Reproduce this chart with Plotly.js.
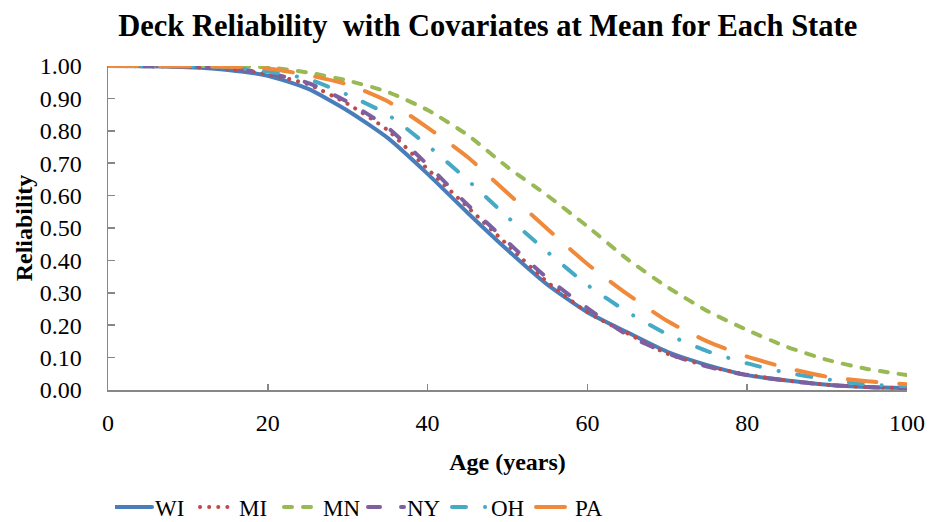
<!DOCTYPE html>
<html>
<head>
<meta charset="utf-8">
<script src="https://cdn.plot.ly/plotly-3.0.1.min.js"></script>
<style>
  html, body { margin: 0; padding: 0; background: #fff; }
  #chart { width: 929px; height: 522px; }
  .scatterlayer .js-line, .legend .js-line, .legendlines path { stroke-linecap: round; stroke-linejoin: round; }
  .legendlines path { d: path('M1,0h36'); }
</style>
</head>
<body>
<div id="chart"></div>
<script>
// Age (years)
const ages = [0, 5, 10, 15, 20, 25, 30, 35, 40, 45, 50, 55, 60, 65, 70, 75, 80, 85, 90, 95, 100];
// Reliability per state
const WI = [1.000, 0.999, 0.996, 0.988, 0.970, 0.930, 0.862, 0.778, 0.667, 0.547, 0.432, 0.325, 0.240, 0.178, 0.118, 0.077, 0.046, 0.029, 0.016, 0.009, 0.006];
const MI = [1.000, 0.999, 0.997, 0.991, 0.975, 0.944, 0.883, 0.802, 0.682, 0.565, 0.448, 0.333, 0.240, 0.175, 0.112, 0.074, 0.047, 0.029, 0.016, 0.009, 0.006];
const MN = [1.000, 1.000, 1.000, 0.999, 0.996, 0.980, 0.955, 0.920, 0.864, 0.787, 0.688, 0.600, 0.505, 0.404, 0.318, 0.244, 0.185, 0.133, 0.093, 0.065, 0.046];
const NY = [1.000, 0.999, 0.998, 0.993, 0.978, 0.948, 0.889, 0.810, 0.695, 0.572, 0.457, 0.345, 0.253, 0.170, 0.113, 0.072, 0.046, 0.029, 0.016, 0.009, 0.006];
const OH = [1.000, 1.000, 0.999, 0.996, 0.983, 0.960, 0.911, 0.850, 0.755, 0.648, 0.534, 0.426, 0.324, 0.241, 0.172, 0.120, 0.082, 0.053, 0.033, 0.017, 0.012];
const PA = [1.000, 1.000, 0.999, 0.998, 0.992, 0.972, 0.943, 0.891, 0.810, 0.719, 0.608, 0.497, 0.389, 0.296, 0.213, 0.150, 0.103, 0.068, 0.041, 0.027, 0.018];

const names = ['WI', 'MI', 'MN', 'NY', 'OH', 'PA'];
const series = [WI, MI, MN, NY, OH, PA];
const colors = ['#4A7EBB', '#BE4B48', '#98B954', '#7D60A0', '#46AAC5', '#F08A3A'];
const dashes = ['solid', '0.1px,9px', '8px,11px', '12px,21px', '14px,19px,0.1px,19px', '29px,23px'];

const traces = series.map((s, i) => ({
  x: ages, y: s, name: names[i], type: 'scatter', mode: 'lines',
  line: { color: colors[i], width: 4, dash: dashes[i], shape: 'spline', smoothing: 0.6 }
}));

const serif = 'Liberation Serif, Times New Roman, serif';
const axisCol = '#878787';

const layout = {
  width: 929, height: 522,
  margin: { l: 108, r: 22, t: 66, b: 132 },
  paper_bgcolor: '#fff', plot_bgcolor: '#fff',
  font: { family: serif, color: '#000' },
  title: {
    text: 'Deck Reliability\u00a0 with Covariates at Mean for Each State',
    font: { family: serif, size: 30.5, color: '#000', weight: 'bold' },
    x: 0.525, xref: 'container', xanchor: 'center',
    y: 0.952, yref: 'container', yanchor: 'middle'
  },
  xaxis: {
    range: [0, 100], dtick: 20, tick0: 0,
    showgrid: false, zeroline: false,
    showline: true, linecolor: axisCol, linewidth: 1.5,
    ticks: 'inside', ticklen: 6, tickcolor: axisCol, tickwidth: 1.5,
    ticklabelstandoff: 11,
    tickfont: { family: serif, size: 24, color: '#000' },
    title: { text: 'Age (years)', font: { family: serif, size: 24, color: '#000', weight: 'bold' }, standoff: 18 }
  },
  yaxis: {
    range: [0, 1], dtick: 0.1, tick0: 0, tickformat: '.2f',
    showgrid: false, zeroline: false,
    showline: true, linecolor: axisCol, linewidth: 1.5,
    ticks: 'inside', ticklen: 7, tickcolor: axisCol, tickwidth: 1.5,
    ticklabelstandoff: 20,
    tickfont: { family: serif, size: 24, color: '#000' },
    title: { text: 'Reliability', font: { family: serif, size: 24, color: '#000', weight: 'bold' }, standoff: 0 }
  },
  showlegend: true,
  legend: {
    orientation: 'h',
    x: 115 / 929, xref: 'container', xanchor: 'left',
    y: 1 - 507 / 522, yref: 'container', yanchor: 'middle',
    font: { family: serif, size: 23, color: '#000' },
    entrywidth: 39, entrywidthmode: 'pixels',
    bgcolor: 'rgba(0,0,0,0)', tracegroupgap: 0
  }
};

Plotly.newPlot('chart', traces, layout, { staticPlot: true, displayModeBar: false });
</script>
</body>
</html>
